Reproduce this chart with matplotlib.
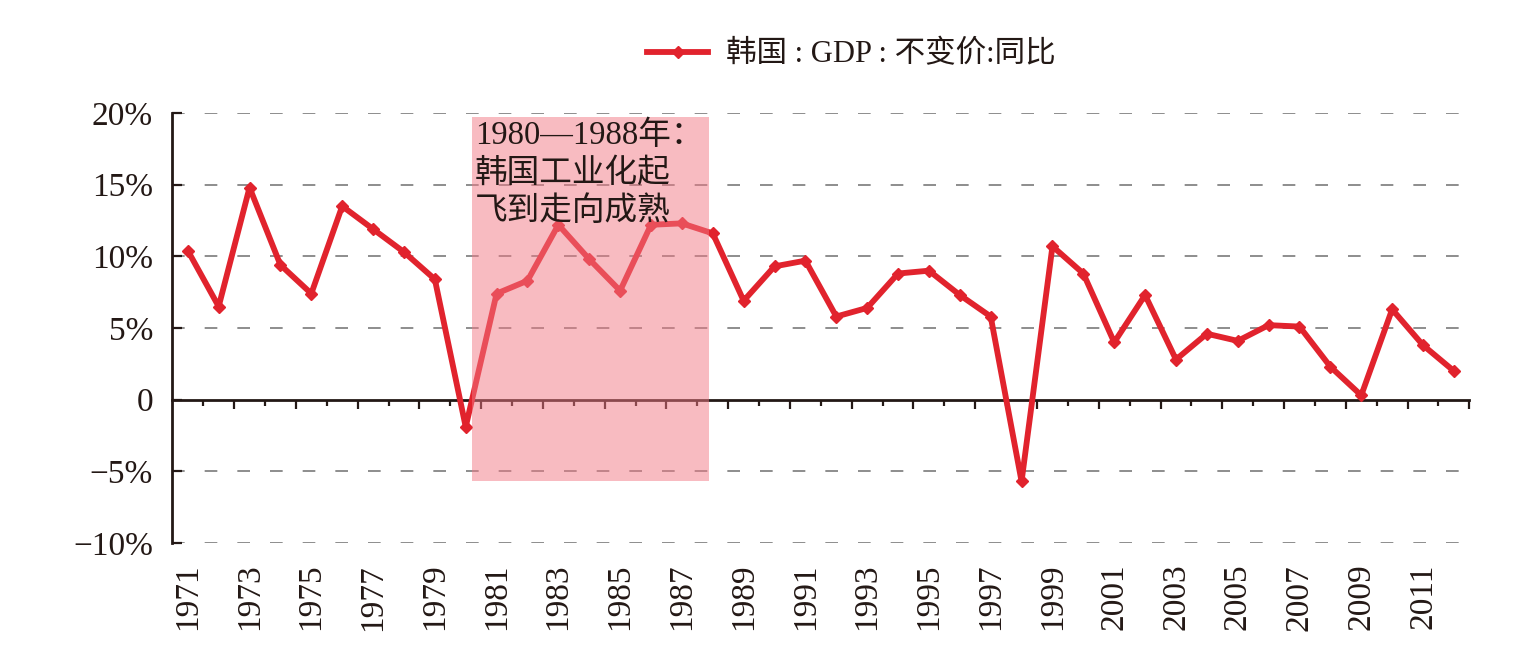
import matplotlib
matplotlib.use("Agg")
import matplotlib.pyplot as plt
from matplotlib.ticker import FixedLocator, NullFormatter, FixedFormatter
from matplotlib.lines import Line2D

# ---------------- data ----------------
years = list(range(1971, 2013))
gdp_growth = [10.4, 6.5, 14.8, 9.4, 7.4, 13.5, 11.9, 10.3, 8.4, -1.9,
              7.4, 8.3, 12.2, 9.8, 7.6, 12.2, 12.3, 11.6, 6.9, 9.3,
              9.7, 5.8, 6.4, 8.8, 9.0, 7.3, 5.8, -5.7, 10.7, 8.8,
              4.0, 7.3, 2.8, 4.6, 4.1, 5.2, 5.1, 2.3, 0.3, 6.3,
              3.8, 2.0]
series_label = "韩国 : GDP : 不变价:同比"
yticks = [-10, -5, 0, 5, 10, 15, 20]
ytick_labels = ["\u221210%", "\u22125%", "0", "5%", "10%", "15%", "20%"]
xtick_years = list(range(1971, 2012, 2))
xtick_labels = [str(y) for y in xtick_years]
shade_x = (1980.2, 1987.89)
shade_y = (-5.66, 19.7)
note_text = "1980\u20141988年：\n韩国工业化起\n飞到走向成熟"

# ---------------- style ----------------
RED = "#e1232d"
FONT = ["Liberation Serif", "Noto Sans CJK SC"]
plt.rcParams["font.family"] = FONT

fig = plt.figure(figsize=(15.32, 6.60), dpi=100)
ax = fig.add_axes([0.1125, 0.17727, 0.8466, 0.65152])

ax.set_xlim(1970.5, 2012.5)
ax.set_ylim(-10, 20)

# gridlines (dashed grey) at non-zero ticks
for v in yticks:
    if v != 0:
        ax.axhline(v, color="#7a7a7a", lw=1.2, linestyle=(0, (7.6, 12.0)), zorder=1)

ax.plot(years, gdp_growth, color=RED, lw=4.2, marker="D", markersize=6.5,
        zorder=3, label=series_label)

# shaded period overlay
ax.fill_between(shade_x, [shade_y[0]] * 2, [shade_y[1]] * 2,
                color="#f27985", alpha=0.5, lw=0, zorder=4)
ax.text(1980.3, 19.5, note_text, fontsize=23.5, va="top", ha="left",
        linespacing=1.32, color="#231815", zorder=5, family=FONT)

# spines
for s in ("top", "right"):
    ax.spines[s].set_visible(False)
ax.spines["left"].set_linewidth(2.0)
ax.spines["left"].set_color("#231815")
ax.spines["bottom"].set_position(("data", 0))
ax.spines["bottom"].set_linewidth(2.0)
ax.spines["bottom"].set_color("#231815")
ax.spines["bottom"].set_zorder(2)

# y axis ticks
ax.yaxis.set_major_locator(FixedLocator(yticks))
ax.yaxis.set_major_formatter(FixedFormatter(ytick_labels))
ax.tick_params(axis="y", direction="in", length=7, width=1.6, pad=14,
               labelsize=24, colors="#231815")

# boundary ticks on zero line
bounds_long = [y + 0.5 for y in range(1972, 2013, 2)]
bounds_short = [y + 0.5 for y in range(1971, 2012, 2)]
ax.xaxis.set_major_locator(FixedLocator(bounds_long))
ax.xaxis.set_minor_locator(FixedLocator(bounds_short))
ax.xaxis.set_major_formatter(NullFormatter())
ax.tick_params(axis="x", which="major", direction="out", length=6.5, width=1.6,
               color="#231815")
ax.tick_params(axis="x", which="minor", direction="out", length=4.3, width=1.6,
               color="#231815")

# year labels at bottom
sec = ax.secondary_xaxis(0)
sec.spines["bottom"].set_visible(False)
sec.xaxis.set_major_locator(FixedLocator(xtick_years))
sec.xaxis.set_major_formatter(FixedFormatter(xtick_labels))
sec.tick_params(axis="x", length=0, pad=15, labelsize=24, labelrotation=90,
                colors="#231815")

# legend
handle = Line2D([], [], color=RED, lw=4.2, marker="D", markersize=6)
fig.legend([handle], [series_label], loc="center",
           bbox_to_anchor=(0.5558, 0.9167), frameon=False,
           prop={"family": FONT, "size": 22}, handlelength=2.0,
           handletextpad=0.6, labelcolor="#231815")

fig.savefig("out.png", dpi=100, facecolor="white")
